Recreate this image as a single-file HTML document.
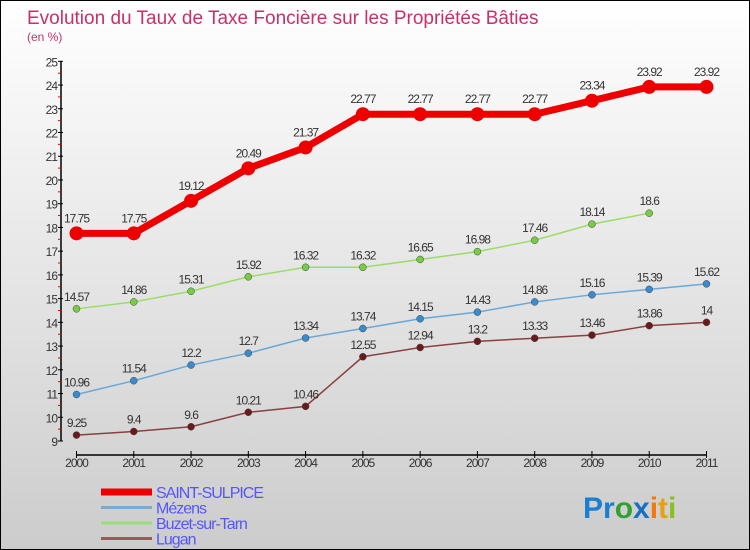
<!DOCTYPE html>
<html><head><meta charset="utf-8">
<style>
html,body{margin:0;padding:0}
body{width:750px;height:550px;overflow:hidden;font-family:"Liberation Sans",sans-serif}
#wrap{position:relative;width:748px;height:548px;border:1px solid #000;background:linear-gradient(#ffffff,#cccccc)}
svg{position:absolute;left:0;top:0}
</style></head>
<body>
<div id="wrap">
<svg id="chart" width="748" height="548">
<text x="26" y="23" font-size="19" fill="#c8306a">Evolution du Taux de Taxe Foncière sur les Propriétés Bâties</text>
<text x="26" y="40" font-size="12" fill="#c8306a">(en %)</text>
<g id="axes"></g>
<g id="series"></g>
<g id="legend"></g>
<text x="582" y="517" font-size="30" font-weight="bold"><tspan fill="#1a7fd0">Pr</tspan><tspan fill="#33a033">o</tspan><tspan fill="#1a6fc0">x</tspan><tspan fill="#f07a10">i</tspan><tspan fill="#e8a010">t</tspan><tspan fill="#88c020">i</tspan></text>
</svg>
</div>
<script>
const years=[2000,2001,2002,2003,2004,2005,2006,2007,2008,2009,2010,2011];
const yTicks=[9,10,11,12,13,14,15,16,17,18,19,20,21,22,23,24,25];
const saintSulpice=[17.75,17.75,19.12,20.49,21.37,22.77,22.77,22.77,22.77,23.34,23.92,23.92];
const mezens=[10.96,11.54,12.2,12.7,13.34,13.74,14.15,14.43,14.86,15.16,15.39,15.62];
const buzet=[14.57,14.86,15.31,15.92,16.32,16.32,16.65,16.98,17.46,18.14,18.6];
const lugan=[9.25,9.4,9.6,10.21,10.46,12.55,12.94,13.2,13.33,13.46,13.86,14];
const seriesNames=["SAINT-SULPICE","Mézens","Buzet-sur-Tarn","Lugan"];

const NS="http://www.w3.org/2000/svg";
const x0=75.5,xStep=(705.5-75.5)/11,yTop=60.3,yBot=440,vMin=9,vMax=25,axisY=454,axisX=60;
function xs(i){return x0+i*xStep;}
function ys(v){return yBot-(v-vMin)/(vMax-vMin)*(yBot-yTop);}
function mk(tag,attrs,parent){const e=document.createElementNS(NS,tag);for(const k in attrs)e.setAttribute(k,attrs[k]);parent.appendChild(e);return e;}
const axes=document.getElementById('axes');
let l=mk('line',{x1:axisX,y1:yTop,x2:axisX,y2:yBot,stroke:'#000','stroke-width':1.5},axes);


yTicks.forEach(v=>{
  const t=mk('line',{x1:axisX-3,y1:ys(v),x2:axisX+2,y2:ys(v),stroke:'#000'},axes);
  
  
  if(v<25){const m=mk('line',{x1:axisX-3,y1:ys(v+0.5),x2:axisX,y2:ys(v+0.5),stroke:'#e00'},axes);
  
  }
  const tx=mk('text',{x:axisX-4,y:ys(v)+5,'text-anchor':'end','font-size':12,fill:'#333','letter-spacing':'-1'},axes);
  tx.textContent=v;
  
  
});
l=mk('line',{x1:x0,y1:axisY,x2:xs(11),y2:axisY,stroke:'#000','stroke-width':1.5},axes);


years.forEach((y,i)=>{
  const t=mk('line',{x1:xs(i),y1:axisY-4,x2:xs(i),y2:axisY+3,stroke:'#000'},axes);
  
  
  const tx=mk('text',{x:xs(i),y:axisY+12,'text-anchor':'middle','font-size':12,fill:'#333','letter-spacing':'-1'},axes);
  tx.textContent=y;
  
  
});
const sg=document.getElementById('series');
const defs=[
 {d:saintSulpice,c:'#ee0000',w:7,r:7,name:'saint-sulpice'},
 {d:mezens,c:'#6aa8d8',w:1.5,r:3.5,fill:'#3a8ad0',name:'mezens'},
 {d:buzet,c:'#99dd66',w:1.5,r:3.5,fill:'#77cc44',name:'buzet-sur-tarn'},
 {d:lugan,c:'#8a4040',w:1.5,r:3.5,fill:'#6a1a1a',name:'lugan'}];
defs.forEach(s=>{
  const g=mk('g',{},sg);
  
  
  const p=mk('polyline',{points:s.d.map((v,i)=>xs(i)+','+ys(v)).join(' '),fill:'none',stroke:s.c,'stroke-width':s.w},g);
  
  
  s.d.forEach((v,i)=>{
    const c=mk('circle',{cx:xs(i),cy:ys(v),r:s.r,fill:s.fill||s.c,stroke:s.fill?'#444':'none','stroke-width':0.5},g);
    
    
    const t=mk('text',{x:xs(i),y:ys(v)-(s.w>3?11:8),'text-anchor':'middle','font-size':12,fill:'#333','letter-spacing':'-1'},g);
    t.textContent=v;
    
    
  });
});
const lg=document.getElementById('legend');
const lc=['#ee0000','#7aaad0','#99dd77','#9a5a5a'],lw=[7,3,3,3];
seriesNames.forEach((n,i)=>{
  const yy=491+i*15.5;
  const ln=mk('line',{x1:100,y1:yy,x2:151,y2:yy,stroke:lc[i],'stroke-width':lw[i]},lg);
  
  
  const t=mk('text',{x:155,y:yy+6,'font-size':16,fill:'#5555ff','letter-spacing':'-1'},lg);
  t.textContent=n;
  
  
});
</script>
</body></html>
